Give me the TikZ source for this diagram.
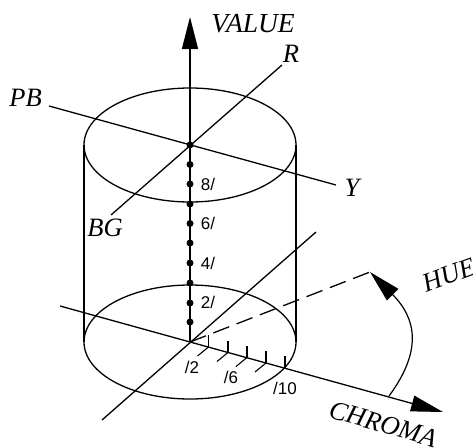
\documentclass[tikz,border=0pt]{standalone}
\usepackage{fontspec}
\setmainfont{Liberation Serif}
\setsansfont{Liberation Sans}
\usetikzlibrary{arrows.meta,shapes.geometric}
\tikzset{
  ln/.style={line width=1.3pt,black},
  big/.style={-{Triangle[length=32pt,width=16pt]}},
  disc/.style={ellipse,draw,line width=1.3pt,minimum width=212pt,minimum height=114pt,inner sep=0pt,outer sep=0pt},
  pt/.style={circle,fill=black,minimum size=7pt,inner sep=0pt},
  axlabel/.style={font=\fontsize{26.5}{28}\selectfont\itshape,inner sep=0pt},
  scale label/.style={font=\fontsize{17}{18}\sffamily\selectfont,inner sep=0pt},
  tickmark/.style={line width=1.1pt}
}
\begin{document}
\begin{tikzpicture}[x=1pt,y=-1pt]
\useasboundingbox (0,0) rectangle (473,447);
% discs
\node[disc] (top) at (190,145) {};
\node[disc] (bot) at (190,342) {};
\draw[ln] (top.west) -- (bot.west);
\draw[ln] (top.east) -- (bot.east);
% free ends
\coordinate (tipV) at (190,17);
\coordinate (endPB) at (49,106);
\coordinate (endY) at (336,185);
\coordinate (endR) at (282,65);
\coordinate (endBG) at (111,215);
\coordinate (o) at (190,342);
\coordinate (endL) at (60,306);
\coordinate (tipC) at (443,412);
\coordinate (endD) at (102,420);
\coordinate (endU) at (316,232);
\coordinate (tipH) at (370,272);
\coordinate (arcS) at (389,396);
% axes
\draw[ln,big] (o) -- (tipV);
\draw[ln] (endPB) -- (endY);
\draw[ln] (endBG) -- (endR);
\draw[ln,-{Triangle[length=32pt,width=16pt]}] (endL) -- (tipC);
\draw[ln] (endD) -- (endU);
\draw[ln,dash pattern=on 17pt off 8pt] (o) -- (tipH);
\draw[line width=1.2pt,-{Triangle[length=32pt,width=16pt]}] (arcS) .. controls (423,350) and (416,318) .. (tipH);
% dots
\foreach \n/\y in {0/145,1/164.5,2/184,3/204,4/223.5,5/243,6/263,7/283,8/303,9/322}
  \node[pt] (d\n) at (190,\y) {};
% ticks
\foreach \x/\y/\d in {208.5/347/1,228/352.5/1,247/357.5/1,266/363/1,285/368/0}{
  \draw[tickmark] (\x,\y) -- (\x,\y-12);
  \ifnum\d=1 \draw[tickmark] (\x,\y) -- (\x-11,\y+9); \fi
}
% labels
\node[axlabel,font=\fontsize{27.5}{28}\selectfont\itshape] (lV) at (253,24) {VALUE};
\node[axlabel] (lR) at (291,54) {R};
\node[axlabel] (lPB) at (25.5,98) {PB};
\node[axlabel] (lY) at (352,188) {Y};
\node[axlabel] (lBG) at (105,228) {BG};
\node[axlabel,rotate=20] (lH) at (449,275) {HUE};
\node[axlabel,rotate=-16] (lC) at (383,424) {CHROMA};
\node[scale label] (s8) at (208,184) {8/};
\node[scale label] (s6) at (208,223) {6/};
\node[scale label] (s4) at (208,263) {4/};
\node[scale label] (s2) at (208,302) {2/};
\node[scale label] (c2) at (192,367) {/2};
\node[scale label] (c6) at (231,377) {/6};
\node[scale label] (c10) at (285,388) {/10};
\end{tikzpicture}
\end{document}
